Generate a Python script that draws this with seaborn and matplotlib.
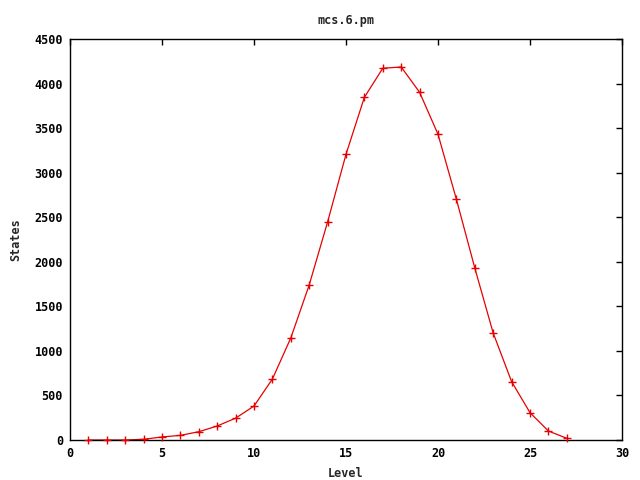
import matplotlib
matplotlib.use("Agg")
import matplotlib.pyplot as plt
import seaborn as sns
import pandas as pd

levels = list(range(1, 28))
states = [0, 0, 0, 8, 34, 52, 93, 157, 245, 381, 684, 1145, 1740, 2447, 3206,
          3846, 4172, 4186, 3902, 3431, 2701, 1930, 1200, 655, 307, 101, 19]
title = "mcs.6.pm"
xlabel = "Level"
ylabel = "States"

df = pd.DataFrame({"Level": levels, "States": states})

sns.set_style("white")
plt.rcParams['font.family'] = ['DejaVu Sans Mono']
plt.rcParams['font.weight'] = 'bold'

fig = plt.figure(figsize=(6.4, 4.8), dpi=100)
ax = fig.add_axes([70/640, 1-440/480, (622-70)/640, (440-39)/480])

sns.lineplot(data=df, x="Level", y="States", color="#e60000", linewidth=0.9,
             ax=ax, zorder=1)
sns.scatterplot(data=df, x="Level", y="States", color="#e60000", marker="+",
                s=30, linewidth=1.0, ax=ax, zorder=4, clip_on=False)

ax.set_xlim(0, 30)
ax.set_ylim(0, 4500)
ax.set_xticks(range(0, 31, 5))
ax.set_yticks(range(0, 4501, 500))
ax.tick_params(direction="in", length=4, width=1, top=True, right=True,
               labelsize=8.5, colors="black", pad=5)
for lab in ax.get_xticklabels() + ax.get_yticklabels():
    lab.set_fontweight("bold")
for s in ax.spines.values():
    s.set_color("black")
    s.set_linewidth(1)
    s.set_zorder(3)

ax.set_title(title, fontsize=8.5, fontweight="bold", pad=11)
ax.set_xlabel(xlabel, fontsize=8.5, fontweight="bold", labelpad=5)
ax.set_ylabel(ylabel, fontsize=8.5, fontweight="bold", labelpad=9)

fig.savefig("out.png", dpi=100)
